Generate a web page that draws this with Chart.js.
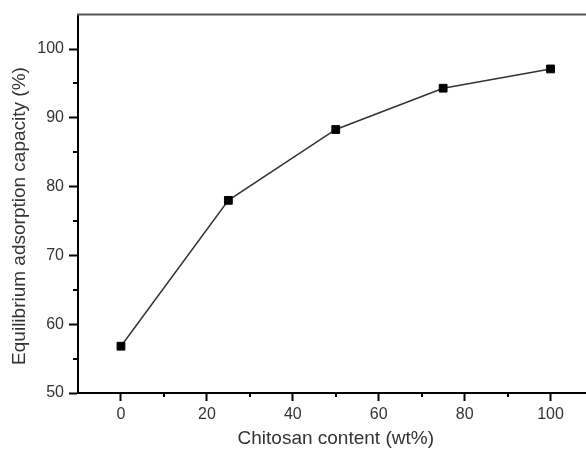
<!DOCTYPE html>
<html>
<head>
<meta charset="utf-8">
<script src="https://cdn.jsdelivr.net/npm/chart.js@4.4.1/dist/chart.umd.min.js"></script>
<style>
  html, body { margin: 0; padding: 0; background: #fff; overflow: hidden; }
  #wrap { width: 600px; height: 450px; }
</style>
</head>
<body>
<div id="wrap"><canvas id="chart" width="600" height="450"></canvas></div>
<script>
const chitosanContent = [0, 25, 50, 75, 100];
const adsorptionCapacity = [56.8, 78.0, 88.3, 94.3, 97.1];
const xTicks = [0, 20, 40, 60, 80, 100];
const yTicks = [50, 60, 70, 80, 90, 100];
const xMinorTicks = [10, 30, 50, 70, 90];
const yMinorTicks = [55, 65, 75, 85, 95];

const FONT = "'Liberation Sans', Arial, sans-serif";

// top frame line, minor ticks and the rotated y title
const framePlugin = {
  id: "frame",
  afterDraw(chart) {
    const { ctx, chartArea, scales } = chart;
    ctx.save();
    ctx.strokeStyle = "#555";
    ctx.lineWidth = 2;
    ctx.beginPath();
    ctx.moveTo(chartArea.left - 1, chartArea.top);
    ctx.lineTo(chartArea.right + 10, chartArea.top);
    ctx.stroke();

    ctx.strokeStyle = "#000";
    ctx.lineWidth = 2;
    ctx.beginPath();
    for (const v of xMinorTicks) {
      const x = Math.round(scales.x.getPixelForValue(v));
      ctx.moveTo(x, chartArea.bottom);
      ctx.lineTo(x, chartArea.bottom + 4);
    }
    for (const v of yMinorTicks) {
      const y = Math.round(scales.y.getPixelForValue(v));
      ctx.moveTo(chartArea.left, y);
      ctx.lineTo(chartArea.left - 5, y);
    }
    ctx.stroke();

    ctx.translate(20, 216);
    ctx.rotate(-Math.PI / 2);
    ctx.fillStyle = "#333";
    ctx.font = `19px ${FONT}`;
    ctx.textAlign = "center";
    ctx.textBaseline = "middle";
    ctx.fillText("Equilibrium adsorption capacity (%)", 0, 0);
    ctx.restore();
  }
};

new Chart(document.getElementById("chart"), {
  type: "line",
  data: {
    datasets: [{
      label: "Adsorption",
      data: chitosanContent.map((x, i) => ({ x, y: adsorptionCapacity[i] })),
      borderColor: "#333",
      borderWidth: 1.5,
      backgroundColor: "#000",
      pointStyle: "rect",
      pointRadius: 5.5,
      pointBorderColor: "#000",
      pointBorderWidth: 1,
      tension: 0,
      fill: false
    }]
  },
  options: {
    responsive: false,
    devicePixelRatio: 1,
    animation: false,
    layout: { padding: { top: 12, right: 4, left: 0, bottom: 0 } },
    plugins: { legend: { display: false }, tooltip: { enabled: false } },
    scales: {
      x: {
        type: "linear",
        min: -10,
        max: 110,
        afterBuildTicks: (scale) => { scale.ticks = xTicks.map((value) => ({ value })); },
        afterFit: (scale) => { scale.height = 57; },
        border: { display: true, color: "#000", width: 2 },
        grid: { drawOnChartArea: false, drawTicks: true, tickLength: 8, tickWidth: 2, tickColor: "#000" },
        ticks: { color: "#333", padding: 4, font: { family: FONT, size: 16 }, maxRotation: 0 },
        title: { display: true, text: "Chitosan content (wt%)", color: "#333", font: { family: FONT, size: 19 }, padding: { top: 0, bottom: 0 } }
      },
      y: {
        type: "linear",
        min: 50,
        max: 105,
        afterBuildTicks: (scale) => { scale.ticks = yTicks.map((value) => ({ value })); },
        afterFit: (scale) => { scale.width = 78; },
        border: { display: true, color: "#000", width: 2 },
        grid: { drawOnChartArea: false, drawTicks: true, tickLength: 9, tickWidth: 2, tickColor: "#000" },
        ticks: { color: "#333", padding: 5, font: { family: FONT, size: 16 } }
      }
    }
  },
  plugins: [framePlugin]
});
</script>
</body>
</html>
